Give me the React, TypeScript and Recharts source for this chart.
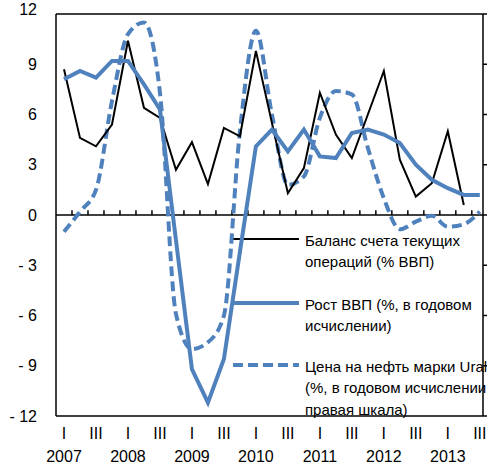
import React from 'react';
import { LineChart, Line, XAxis, YAxis, ReferenceLine, Customized } from 'recharts';

// quarters: 2007 Q1 ... 2013 Q3
const years = ['2007', '2008', '2009', '2010', '2011', '2012', '2013'];
const quarterNames = ['I', 'II', 'III', 'IV'];

const currentAccount = [8.7, 4.6, 4.1, 5.4, 10.4, 6.4, 5.8, 2.7, 4.35, 1.85, 5.2, 4.7, 9.8, 5.5, 1.3, 2.8, 7.3, 4.8, 3.4, 6.0, 8.6, 3.3, 1.1, 1.9, 5.0, 0.6, null];
const gdpGrowth = [8.1, 8.6, 8.2, 9.2, 9.2, 7.8, 6.3, -1.5, -9.2, -11.2, -8.6, -2.2, 4.1, 5.1, 3.8, 5.1, 3.5, 3.4, 4.9, 5.1, 4.8, 4.3, 3.0, 2.1, 1.6, 1.2, 1.2];
const uralsPrice = [-1.0, 0.2, 1.5, 6.8, 10.8, 11.5, 7.3, -5.9, -8.0, -7.6, -6.0, 5.0, 11.0, 6.0, 1.8, 2.3, 5.8, 7.4, 7.2, 4.0, 1.0, -0.85, -0.4, -0.05, -0.7, -0.55, 0.2];

const yTicks = [-12, -9, -6, -3, 0, 3, 6, 9, 12];
const xTicks = [0, 2, 4, 6, 8, 10, 12, 14, 16, 18, 20, 22, 24, 26];

const legendItems = [
  { lines: ['Баланс счета текущих', 'операций (% ВВП)'], color: '#000', width: 2, dash: undefined },
  { lines: ['Рост ВВП (%, в годовом', 'исчислении)'], color: '#4F81BD', width: 4, dash: undefined },
  { lines: ['Цена на нефть марки Urals', '(%, в годовом исчислении,', 'правая шкала)'], color: '#4F81BD', width: 4, dash: '10 5' },
];

const data = gdpGrowth.map((g, i) => ({
  q: i,
  ca: currentAccount[i],
  gdp: g,
  oil: uralsPrice[i],
}));

// boundaries between quarters for the little ticks on the zero line
const boundaries = data.slice(0, data.length - 1).map((d) => d.q + 0.5);

const FONT = '"Liberation Sans", Arial, sans-serif';
const BLUE = '#4F81BD';

const QuarterTick = (props: any) => {
  const { x, y, payload } = props;
  const i = payload.value as number;
  const q = i % 4;
  return (
    <g fontFamily={FONT} fontSize={16} fill="#000">
      <text x={x} y={y + 23} textAnchor="middle">{quarterNames[q]}</text>
      {q === 0 && (
        <text x={x} y={y + 46} textAnchor="middle">{years[i / 4]}</text>
      )}
    </g>
  );
};

const ValueTick = (props: any) => {
  const { x, y, payload } = props;
  const v = payload.value as number;
  const label = v < 0 ? `- ${Math.abs(v)}` : `${v}`;
  return (
    <text x={x} y={v === 12 ? y - 5 : y} dy="0.355em" textAnchor="end" fontFamily={FONT} fontSize={16} fill="#000">
      {label}
    </text>
  );
};

const LegendBlock = () => {
  const rowTops = [240, 304, 366];
  return (
    <g fontFamily={FONT} fontSize={15} fill="#000">
      {legendItems.map((item, k) => (
        <g key={k}>
          <line x1={233} x2={299} y1={rowTops[k] - 1} y2={rowTops[k] - 1} stroke={item.color} strokeWidth={item.width} strokeDasharray={item.dash} />
          {item.lines.map((t, j) => (
            <text key={j} x={305} y={rowTops[k] + 5.5 + j * 21.5}>{t}</text>
          ))}
        </g>
      ))}
    </g>
  );
};

export default function App() {
  return (
    <div style={{ position: 'absolute', left: 0, top: 0, width: 487, height: 468, overflow: 'hidden', background: '#fff' }}>
      <LineChart width={487} height={468} data={data} margin={{ top: 14, right: 0, left: 0, bottom: 0 }}>
        <XAxis
          dataKey="q"
          type="number"
          domain={[-0.5, 26.2]}
          ticks={xTicks}
          height={52}
          tickSize={0}
          tickMargin={0}
          tickLine={false}
          axisLine={{ stroke: '#000', strokeWidth: 1.5 }}
          tick={<QuarterTick />}
          interval={0}
          allowDataOverflow
        />
        <YAxis
          yAxisId="left"
          domain={[-12, 12]}
          ticks={yTicks}
          width={56}
          tickSize={0}
          tickMargin={19}
          tickLine={false}
          axisLine={{ stroke: '#000', strokeWidth: 1.5 }}
          tick={<ValueTick />}
          interval={0}
        />
        <YAxis
          yAxisId="right"
          orientation="right"
          domain={[-12, 12]}
          ticks={yTicks}
          width={4}
          tickSize={4}
          tick={() => <g />}
          tickLine={{ stroke: '#000', strokeWidth: 1.5 }}
          axisLine={{ stroke: '#000', strokeWidth: 1.5 }}
          interval={0}
        />
        <ReferenceLine yAxisId="left" y={12} stroke="#000" strokeWidth={1.5} />
        <ReferenceLine yAxisId="left" y={0} stroke="#000" strokeWidth={1.5} />
        {boundaries.map((b) => (
          <ReferenceLine
            key={b}
            yAxisId="left"
            segment={[{ x: b, y: 0 }, { x: b, y: 0.28 }]}
            stroke="#000"
            strokeWidth={1.5}
          />
        ))}
        <Line yAxisId="right" type="monotone" dataKey="oil" stroke={BLUE} strokeWidth={4} strokeDasharray="10 5" dot={false} isAnimationActive={false} />
        <Line yAxisId="left" type="linear" dataKey="ca" stroke="#000" strokeWidth={2} dot={false} isAnimationActive={false} />
        <Line yAxisId="left" type="linear" dataKey="gdp" stroke={BLUE} strokeWidth={4} dot={false} isAnimationActive={false} />
        <Customized component={LegendBlock} />
      </LineChart>
    </div>
  );
}
